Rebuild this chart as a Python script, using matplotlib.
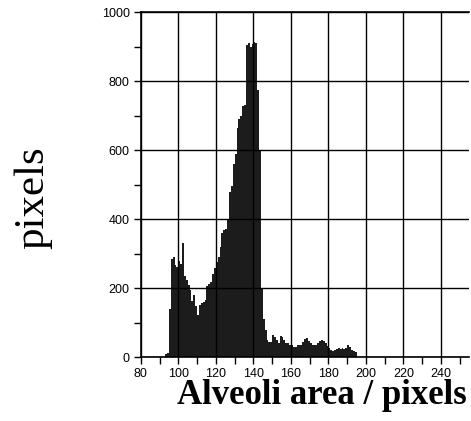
import numpy as np
import matplotlib.pyplot as plt

# histogram of alveoli areas, one bin per pixel of area
area_start = 93
counts = [
    8, 12, 140, 283, 290, 268, 262, 278, 270, 331,        # 93-102
    236, 224, 210, 195, 162, 180, 148, 122, 152, 158,     # 103-112
    160, 165, 205, 212, 218, 242, 258, 275, 290, 318,     # 113-122
    360, 368, 372, 400, 480, 495, 560, 590, 663, 690,     # 123-132
    700, 728, 730, 905, 912, 898, 908, 915, 910, 775,     # 133-142
    600, 200, 110, 78, 50, 44, 44, 64, 58, 50,            # 143-152
    40, 60, 58, 49, 42, 40, 36, 34, 30, 30,               # 153-162
    34, 35, 36, 44, 52, 55, 46, 40, 36, 34,               # 163-172
    35, 40, 46, 49, 45, 42, 32, 26, 20, 18,               # 173-182
    20, 24, 25, 23, 25, 24, 26, 35, 28, 20,               # 183-192
    18, 14,                                               # 193-194
]
area_bins = np.arange(area_start, area_start + len(counts))

x_ticks = list(range(80, 241, 20))
y_ticks = list(range(0, 1001, 200))

fig = plt.figure(figsize=(4.71, 4.21), dpi=100)
ax = fig.add_axes([0.299, 0.152, 0.697, 0.819])

ax.bar(area_bins, counts, width=1.0, align="edge", color="#1c1c1c",
       edgecolor="none", zorder=1)

ax.set_xlim(80, 255)
ax.set_ylim(0, 1000)
ax.set_xticks(x_ticks)
ax.set_xticks(range(80, 251, 10), minor=True)
ax.set_yticks(y_ticks)
ax.set_yticks(range(0, 1001, 100), minor=True)
ax.grid(True, which="major", color="black", linewidth=1.0, zorder=2)
ax.set_axisbelow(False)

for lab in ax.get_xticklabels() + ax.get_yticklabels():
    lab.set_family("Liberation Sans")
    lab.set_fontsize(9)
ax.tick_params(which="both", direction="out", length=5, width=1.0,
               color="black", pad=3)

ax.spines["right"].set_visible(False)
for s in ("left", "bottom", "top"):
    ax.spines[s].set_linewidth(1.2)

ax.set_xlabel("Alveoli area / pixels", family="Liberation Serif",
              fontsize=25, fontweight="bold", ha="center", va="top")
ax.xaxis.set_label_coords(0.552, -0.064)
ax.set_ylabel("pixels", family="Liberation Serif", fontsize=31,
              rotation=90, ha="center", va="center")
ax.yaxis.set_label_coords(-0.329, 0.461)

fig.savefig("out.png", dpi=100)
